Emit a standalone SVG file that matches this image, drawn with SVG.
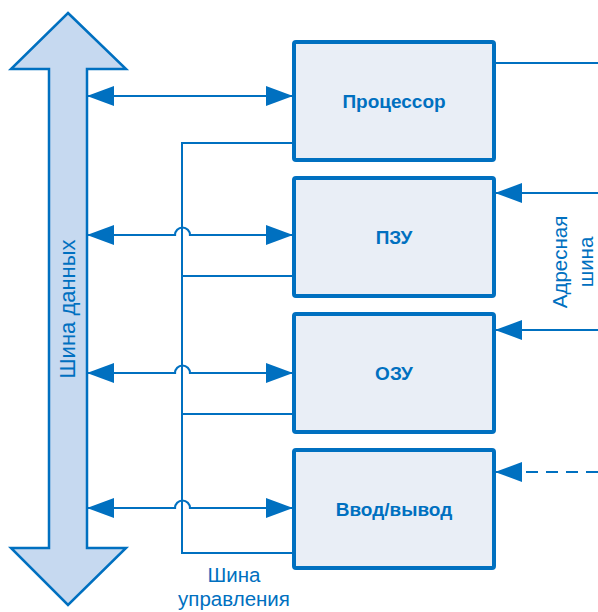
<svg xmlns="http://www.w3.org/2000/svg" width="598" height="612" viewBox="0 0 598 612">
<defs>
<style>
.box{fill:#E9EEF6;stroke:#0070C0;stroke-width:4}
.lbl{font-family:"Liberation Sans",Arial,sans-serif;font-weight:bold;font-size:19px;fill:#0070C0;text-anchor:middle}
.txt{font-family:"Liberation Sans",Arial,sans-serif;font-size:20.5px;fill:#0070C0;text-anchor:middle}
.ln{fill:none;stroke:#0070C0;stroke-width:2}
.arr{fill:none;stroke:#0070C0;stroke-width:2.2;marker-end:url(#ah)}
.darr{fill:none;stroke:#0070C0;stroke-width:2.2;marker-start:url(#ah);marker-end:url(#ah)}
</style>
<marker id="ah" viewBox="0 0 27 20" refX="26" refY="10" markerWidth="27" markerHeight="20" markerUnits="userSpaceOnUse" orient="auto-start-reverse">
<path d="M0,0 L27,10 L0,20 z" fill="#0070C0"/>
</marker>
</defs>
<g id="data-bus">
<polygon points="68,13 126,69 87,69 87,548 126,548 68,605 11,548 49,548 49,69 11,69" fill="#C6D9F0" stroke="#0070C0" stroke-width="2.5" stroke-linejoin="miter"/>
<text class="txt" transform="translate(75,309) rotate(-90)" style="font-size:22px">Шина данных</text>
</g>
<g id="cpu">
<rect class="box" x="294" y="42" width="200" height="118" rx="2"/>
<text class="lbl" x="394" y="108">Процессор</text>
</g>
<g id="rom">
<rect class="box" x="294" y="178" width="200" height="118" rx="2"/>
<text class="lbl" x="394" y="244">ПЗУ</text>
</g>
<g id="ram">
<rect class="box" x="294" y="314" width="200" height="118" rx="2"/>
<text class="lbl" x="394" y="380">ОЗУ</text>
</g>
<g id="io">
<rect class="box" x="294" y="450" width="200" height="118" rx="2"/>
<text class="lbl" x="394" y="516">Ввод/вывод</text>
</g>
<g id="connectors">
<path class="darr" d="M88,96 H292"/>
<path class="darr" d="M88,235 H175 A7.5,7.5 0 0 1 190,235 H292"/>
<path class="darr" d="M88,373 H175 A7.5,7.5 0 0 1 190,373 H292"/>
<path class="darr" d="M88,508 H175 A7.5,7.5 0 0 1 190,508 H292"/>
<path class="ln" d="M292,143 H182 V553 H292"/>
<path class="ln" d="M182,276 H292"/>
<path class="ln" d="M182,414 H292"/>
<path class="ln" d="M496,63 H598"/>
<path class="arr" d="M598,193 H496"/>
<path class="arr" d="M598,330 H496"/>
<path class="arr" d="M598,472 H496" stroke-dasharray="12 8"/>
</g>
<g id="address-label">
<text class="txt" transform="translate(567,262) rotate(-90)">Адресная</text>
<text class="txt" transform="translate(593,262) rotate(-90)">шина</text>
</g>
<g id="control-label">
<text class="txt" x="234" y="582">Шина</text>
<text class="txt" x="234" y="606">управления</text>
</g>
</svg>
